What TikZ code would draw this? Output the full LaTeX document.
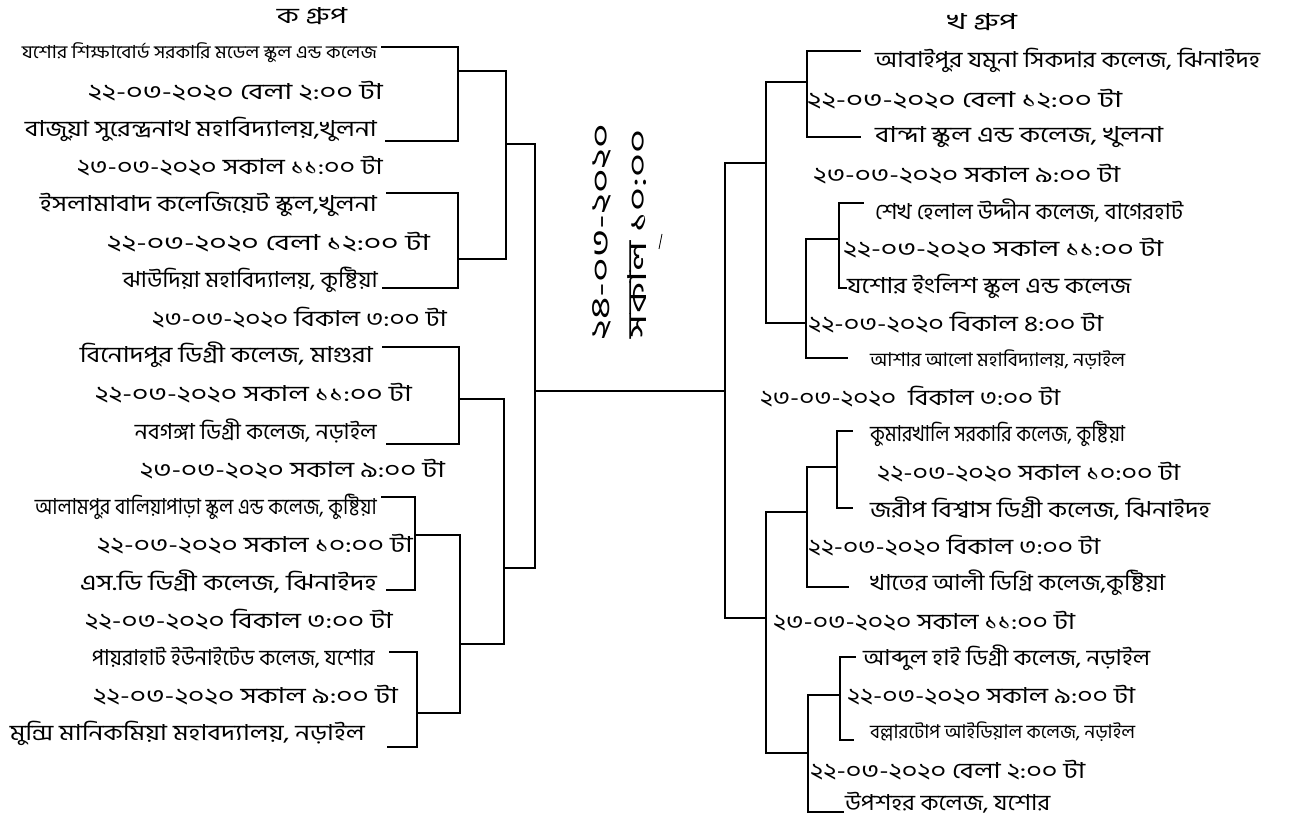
\documentclass[tikz,border=0pt]{standalone}
\usepackage{graphicx}
\usepackage{fontspec}
\newfontfamily\bn[Script=Bengali]{Hind Siliguri}
\newcommand\bt[2]{\resizebox{#1pt}{\height}{\bn #2}}
\begin{document}
\begin{tikzpicture}[x=1pt,y=-1pt,
  lt/.style={anchor=east,inner sep=0pt,font=\fontsize{22}{24}\selectfont},
  rt/.style={anchor=west,inner sep=0pt,font=\fontsize{22}{24}\selectfont},
  hd/.style={inner sep=0pt,font=\fontsize{22}{24}\selectfont},
  br/.style={line width=1.6pt,line cap=rect},
  mainln/.style={line width=2.6pt}]
\useasboundingbox (0,0) rectangle (1310,824);
\fill[white] (0,0) rectangle (1310,824);
% headers
\node[hd] (hk) at (312,16) {\bt{70}{ক গ্রুপ}};
\node[hd] (hkh) at (982,22) {\bt{70}{খ গ্রুপ}};
% left texts
\node[lt,font=\fontsize{18}{20}\selectfont] (l1) at (377,53) {\bt{355}{যশোর শিক্ষাবোর্ড সরকারি মডেল স্কুল এন্ড কলেজ}};
\node[lt] (l2) at (383,91) {\bt{295}{২২-০৩-২০২০ বেলা ২:০০ টা}};
\node[lt] (l3) at (377,129) {\bt{352}{বাজুয়া সুরেন্দ্রনাথ মহাবিদ্যালয়,খুলনা}};
\node[lt] (l4) at (383,166) {\bt{306}{২৩-০৩-২০২০ সকাল ১১:০০ টা}};
\node[lt] (l5) at (377,204) {\bt{337}{ইসলামাবাদ কলেজিয়েট স্কুল,খুলনা}};
\node[lt] (l6) at (430,242) {\bt{323}{২২-০৩-২০২০ বেলা ১২:০০ টা}};
\node[lt] (l7) at (378,280) {\bt{255}{ঝাউদিয়া মহাবিদ্যালয়, কুষ্টিয়া}};
\node[lt] (l8) at (447,318) {\bt{295}{২৩-০৩-২০২০ বিকাল ৩:০০ টা}};
\node[lt] (l9) at (373,355) {\bt{293}{বিনোদপুর ডিগ্রী কলেজ, মাগুরা}};
\node[lt] (l10) at (412,393) {\bt{317}{২২-০৩-২০২০ সকাল ১১:০০ টা}};
\node[lt] (l11) at (377,431) {\bt{242}{নবগঙ্গা ডিগ্রী কলেজ, নড়াইল}};
\node[lt] (l12) at (445,469) {\bt{305}{২৩-০৩-২০২০ সকাল ৯:০০ টা}};
\node[lt] (l13) at (377,507) {\bt{342}{আলামপুর বালিয়াপাড়া স্কুল এন্ড কলেজ, কুষ্টিয়া}};
\node[lt] (l14) at (413,544) {\bt{316}{২২-০৩-২০২০ সকাল ১০:০০ টা}};
\node[lt] (l15) at (377,582) {\bt{297}{এস.ডি ডিগ্রী কলেজ, ঝিনাইদহ}};
\node[lt] (l16) at (393,620) {\bt{308}{২২-০৩-২০২০ বিকাল ৩:০০ টা}};
\node[lt] (l17) at (375,658) {\bt{283}{পায়রাহাট ইউনাইটেড কলেজ, যশোর}};
\node[lt] (l18) at (398,695) {\bt{305}{২২-০৩-২০২০ সকাল ৯:০০ টা}};
\node[lt] (l19) at (365,733) {\bt{355}{মুন্সি মানিকমিয়া মহাবদ্যালয়, নড়াইল}};
% right texts
\node[rt] (r1) at (875,60) {\bt{385}{আবাইপুর যমুনা সিকদার কলেজ, ঝিনাইদহ}};
\node[rt] (r2) at (807,99) {\bt{315}{২২-০৩-২০২০ বেলা ১২:০০ টা}};
\node[rt] (r3) at (875,137) {\bt{288}{বান্দা স্কুল এন্ড কলেজ, খুলনা}};
\node[rt] (r4) at (813,174) {\bt{307}{২৩-০৩-২০২০ সকাল ৯:০০ টা}};
\node[rt] (r5) at (875,211) {\bt{308}{শেখ হেলাল উদ্দীন কলেজ, বাগেরহাট}};
\node[rt] (r6) at (843,248) {\bt{320}{২২-০৩-২০২০ সকাল ১১:০০ টা}};
\node[rt] (r7) at (847,286) {\bt{284}{যশোর ইংলিশ স্কুল এন্ড কলেজ}};
\node[rt] (r8) at (808,323) {\bt{295}{২২-০৩-২০২০ বিকাল ৪:০০ টা}};
\node[rt,font=\fontsize{19}{21}\selectfont] (r9) at (870,360) {\bt{255}{আশার আলো মহাবিদ্যালয়, নড়াইল}};
\node[rt] (r10) at (760,397) {\bt{300}{২৩-০৩-২০২০ \ বিকাল ৩:০০ টা}};
\node[rt] (r11) at (870,434) {\bt{255}{কুমারখালি সরকারি কলেজ, কুষ্টিয়া}};
\node[rt] (r12) at (877,472) {\bt{303}{২২-০৩-২০২০ সকাল ১০:০০ টা}};
\node[rt] (r13) at (870,509) {\bt{340}{জরীপ বিশ্বাস ডিগ্রী কলেজ, ঝিনাইদহ}};
\node[rt] (r14) at (808,546) {\bt{292}{২২-০৩-২০২০ বিকাল ৩:০০ টা}};
\node[rt] (r15) at (870,583) {\bt{295}{খাতের আলী ডিগ্রি কলেজ,কুষ্টিয়া}};
\node[rt] (r16) at (773,621) {\bt{302}{২৩-০৩-২০২০ সকাল ১১:০০ টা}};
\node[rt] (r17) at (863,658) {\bt{287}{আব্দুল হাই ডিগ্রী কলেজ, নড়াইল}};
\node[rt] (r18) at (847,695) {\bt{288}{২২-০৩-২০২০ সকাল ৯:০০ টা}};
\node[rt,font=\fontsize{19}{21}\selectfont] (r19) at (870,732) {\bt{265}{বল্লারটোপ আইডিয়াল কলেজ, নড়াইল}};
\node[rt] (r20) at (810,770) {\bt{275}{২২-০৩-২০২০ বেলা ২:০০ টা}};
\node[rt] (r21) at (845,803) {\bt{205}{উপশহর কলেজ, যশোর}};
% centre (final)
\node[hd,rotate=90,font=\fontsize{26}{28}\selectfont] (fd) at (602,232) {\bt{217}{২৪-০৩-২০২০}};
\node[hd,rotate=90,font=\fontsize{26}{28}\selectfont] (ft) at (637,234) {\bt{208}{সকাল ১০:০০}};
\draw[line width=0.8pt] (662,234) -- (659,249);
% ---------- left bracket coordinates
\coordinate (a1) at (382,47); \coordinate (a2) at (458,47); \coordinate (a3) at (458,141); \coordinate (a4) at (386,141);
\coordinate (ao) at (458,71); \coordinate (abT) at (506,71);
\coordinate (b1) at (387,193); \coordinate (b2) at (458,193); \coordinate (b3) at (458,288); \coordinate (b4) at (383,288);
\coordinate (bo) at (458,259); \coordinate (abB) at (506,259);
\coordinate (abo) at (506,144); \coordinate (f1) at (535,144);
\coordinate (c1) at (383,347); \coordinate (c2) at (459,347); \coordinate (c3) at (459,444); \coordinate (c4) at (387,444);
\coordinate (co) at (459,399); \coordinate (cdT) at (504,399);
\coordinate (d1) at (382,497); \coordinate (d2) at (415,497); \coordinate (d3) at (415,590); \coordinate (d4) at (387,590);
\coordinate (do) at (415,535); \coordinate (deT) at (460,535);
\coordinate (e1) at (390,652); \coordinate (e2) at (417,652); \coordinate (e3) at (417,747); \coordinate (e4) at (388,747);
\coordinate (eo) at (417,713); \coordinate (deB) at (460,713);
\coordinate (deo) at (460,644); \coordinate (cdB) at (504,644);
\coordinate (cdo) at (504,568); \coordinate (f2) at (535,568);
\coordinate (fm) at (535,391); \coordinate (gm) at (725,391);
% ---------- right bracket coordinates
\coordinate (ra1) at (860,51); \coordinate (ra2) at (807,51); \coordinate (ra3) at (807,137); \coordinate (ra4) at (860,137);
\coordinate (rao) at (807,82); \coordinate (r1T) at (766,82);
\coordinate (rb1) at (863,203); \coordinate (rb2) at (839,203); \coordinate (rb3) at (839,288); \coordinate (rb4) at (846,288);
\coordinate (rbo) at (839,239); \coordinate (rbbT) at (806,239);
\coordinate (rbbB) at (806,358); \coordinate (rbb4) at (847,358);
\coordinate (rbbo) at (806,323); \coordinate (r1B) at (766,323);
\coordinate (r1o) at (766,163); \coordinate (g1) at (725,163);
\coordinate (rc1) at (852,431); \coordinate (rc2) at (837,431); \coordinate (rc3) at (837,508); \coordinate (rc4) at (852,508);
\coordinate (rco) at (837,467); \coordinate (rccT) at (807,467);
\coordinate (rccB) at (807,587); \coordinate (rcc4) at (848,587);
\coordinate (rcco) at (807,512); \coordinate (r2T) at (766,512);
\coordinate (re1) at (855,657); \coordinate (re2) at (840,657); \coordinate (re3) at (840,740); \coordinate (re4) at (853,740);
\coordinate (reo) at (840,695); \coordinate (reeT) at (808,695);
\coordinate (reeB) at (808,812); \coordinate (ree4) at (843,812);
\coordinate (reeo) at (808,753); \coordinate (r2B) at (766,753);
\coordinate (r2o) at (766,618); \coordinate (g2) at (725,618);
% ---------- left brackets
\draw[br] (a1) -- (a2) -- (a3) -- (a4);
\draw[br] (ao) -- (abT);
\draw[br] (b1) -- (b2) -- (b3) -- (b4);
\draw[br] (bo) -- (abB);
\draw[br] (abT) -- (abB);
\draw[br] (abo) -- (f1);
\draw[br] (c1) -- (c2) -- (c3) -- (c4);
\draw[br] (co) -- (cdT);
\draw[br] (d1) -- (d2) -- (d3) -- (d4);
\draw[br] (do) -- (deT);
\draw[br] (e1) -- (e2) -- (e3) -- (e4);
\draw[br] (eo) -- (deB);
\draw[br] (deT) -- (deB);
\draw[br] (deo) -- (cdB);
\draw[br] (cdT) -- (cdB);
\draw[br] (cdo) -- (f2);
\draw[br] (f1) -- (f2);
% ---------- right brackets
\draw[br] (ra1) -- (ra2) -- (ra3) -- (ra4);
\draw[br] (rao) -- (r1T);
\draw[br] (rb1) -- (rb2) -- (rb3) -- (rb4);
\draw[br] (rbo) -- (rbbT);
\draw[br] (rbbT) -- (rbbB) -- (rbb4);
\draw[br] (rbbo) -- (r1B);
\draw[br] (r1T) -- (r1B);
\draw[br] (r1o) -- (g1);
\draw[br] (rc1) -- (rc2) -- (rc3) -- (rc4);
\draw[br] (rco) -- (rccT);
\draw[br] (rccT) -- (rccB) -- (rcc4);
\draw[br] (rcco) -- (r2T);
\draw[br] (re1) -- (re2) -- (re3) -- (re4);
\draw[br] (reo) -- (reeT);
\draw[br] (reeT) -- (reeB) -- (ree4);
\draw[br] (reeo) -- (r2B);
\draw[br] (r2T) -- (r2B);
\draw[br] (r2o) -- (g2);
\draw[br] (g1) -- (g2);
% ---------- final
\draw[mainln] (fm) -- (gm);
\end{tikzpicture}
\end{document}
